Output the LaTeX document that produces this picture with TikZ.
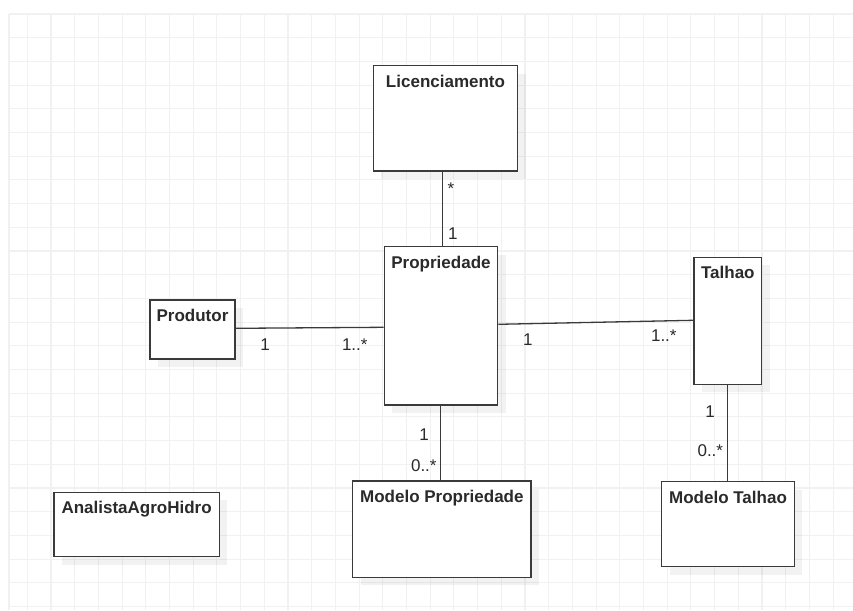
\documentclass[tikz,border=0pt]{standalone}
\usepackage{fontspec}
\setmainfont{Liberation Sans}
\usetikzlibrary{shadows}
\definecolor{gridgray}{HTML}{F1F1F1}
\definecolor{edgegray}{HTML}{3A3A3A}
\definecolor{inkgray}{HTML}{2A2A2A}
\tikzset{
  gridline/.style={draw=gridgray, line width=1.1pt},
  cls/.style={rectangle, draw=edgegray, line width=1.3pt, fill=white, inner sep=0pt,
    drop shadow={shadow xshift=8pt, shadow yshift=-8pt, draw=none, fill=black, opacity=0.05}},
  title/.style={anchor=base, yshift=-22pt, text=inkgray, inner sep=0pt,
    font=\bfseries\fontsize{17}{20}\selectfont},
  assoc/.style={draw=edgegray, line width=1.3pt},
  mult/.style={anchor=base, text=inkgray, inner sep=0pt, font=\fontsize{17}{20}\selectfont},
}
\begin{document}
\begin{tikzpicture}[x=1pt, y=-1pt]
  \useasboundingbox (0,0) rectangle (853,610);
  \fill[white] (0,0) rectangle (853,610);

  % background grid
  \foreach \k in {0,...,25} {
    \draw[gridline] (9,14+23.7*\k) -- (853,14+23.7*\k);
  }
  \draw[gridline] (9,14) -- (9,610);
  \foreach \k in {0,...,35} {
    \draw[gridline] (27.3+23.7*\k,14) -- (27.3+23.7*\k,610);
  }

  % classes
  \node[cls, minimum width=144.4pt, minimum height=105.3pt,
        label={[title]north:Licenciamento}] (lic) at (445.5,118.35) {};
  \node[cls, minimum width=113.4pt, minimum height=158.3pt,
        label={[title]north:Propriedade}] (prop) at (441,325.85) {};
  \node[cls, minimum width=85pt, minimum height=59pt,
        label={[title]north:Produtor}] (prod) at (192.5,329.5) {};
  \node[cls, minimum width=67.7pt, minimum height=127pt,
        label={[title]north:Talhao}] (tal) at (727.85,320.8) {};
  \node[cls, minimum width=132.6pt, minimum height=85pt,
        label={[title]north:Modelo Talhao}] (modtal) at (728,524.2) {};
  \node[cls, minimum width=178.3pt, minimum height=96.3pt,
        label={[title]north:Modelo Propriedade}] (modprop) at (441.85,529.15) {};
  \node[cls, minimum width=165.3pt, minimum height=64.4pt,
        label={[title]north:AnalistaAgroHidro}] (analista) at (136.65,524.5) {};

  % associations
  \draw[assoc] ([xshift=-3.2pt]lic.south) -- ([xshift=1.3pt]prop.north);
  \draw[assoc] ([yshift=1.2pt]prod.east) -- ([yshift=-1.45pt]prop.west);
  \draw[assoc] ([yshift=1.55pt]prop.east) -- ([yshift=0.5pt]tal.west);
  \draw[assoc] ([xshift=-0.7pt]prop.south) -- ([xshift=-1.55pt]modprop.north);
  \draw[assoc] ([xshift=-0.55pt]tal.south) -- ([xshift=-0.7pt]modtal.north);

  % multiplicities
  \node[mult] (mLicA) at (451,194) {*};
  \node[mult] (mLicB) at (452.8,239.3) {1};
  \node[mult] (mProdA) at (265,350) {1};
  \node[mult] (mProdB) at (354.8,350) {1..*};
  \node[mult] (mTalA) at (527.8,345.7) {1};
  \node[mult] (mTalB) at (663.8,341.3) {1..*};
  \node[mult] (mMtA) at (710,417.7) {1};
  \node[mult] (mMtB) at (710.3,456.7) {0..*};
  \node[mult] (mMpA) at (424,440.7) {1};
  \node[mult] (mMpB) at (423.8,471.7) {0..*};
\end{tikzpicture}
\end{document}
